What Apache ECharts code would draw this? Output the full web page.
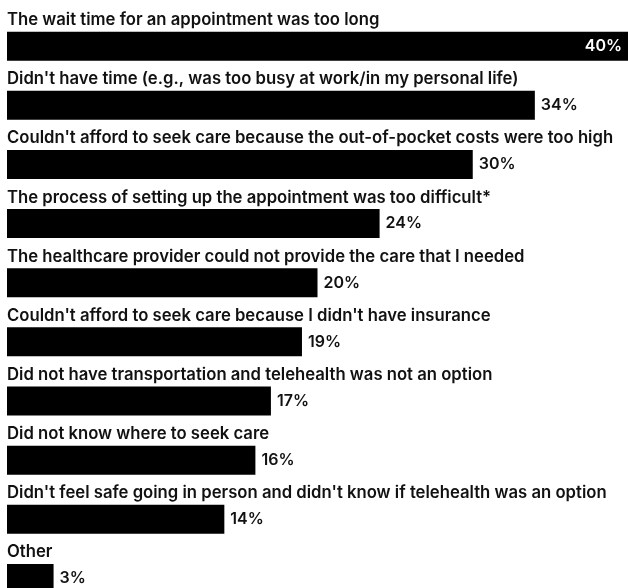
<!DOCTYPE html>
<html><head><meta charset="utf-8">
<script src="https://cdn.jsdelivr.net/npm/echarts@6/dist/echarts.min.js"></script>
<style>html,body{margin:0;padding:0;background:#fff}#c{width:628px;height:588px}</style>
</head><body><div id="c"></div>
<script>
const categories = [
  "The wait time for an appointment was too long",
  "Didn't have time (e.g., was too busy at work/in my personal life)",
  "Couldn't afford to seek care because the out-of-pocket costs were too high",
  "The process of setting up the appointment was too difficult*",
  "The healthcare provider could not provide the care that I needed",
  "Couldn't afford to seek care because I didn't have insurance",
  "Did not have transportation and telehealth was not an option",
  "Did not know where to seek care",
  "Didn't feel safe going in person and didn't know if telehealth was an option",
  "Other"
];
const values = [40, 34, 30, 24, 20, 19, 17, 16, 14, 3];

const font = 'Inter, Roboto, "Noto Sans", sans-serif';
const chart = echarts.init(document.getElementById('c'), null, {renderer: 'canvas'});
chart.setOption({
  animation: false,
  backgroundColor: '#fff',
  grid: {left: 7, right: 0, top: 16.6, height: 591.4, containLabel: false, outerBoundsMode: 'none'},
  xAxis: {type: 'value', min: 0, max: 40, show: false},
  yAxis: {type: 'category', data: categories, inverse: true, show: false},
  series: [
    {
      type: 'bar',
      barWidth: 29,
      itemStyle: {color: '#000'},
      data: values.map((v, i) => i === 0
        ? {value: v, label: {position: 'insideRight', color: '#fff', distance: 6}}
        : v),
      label: {
        show: true, position: 'right', distance: 6,
        formatter: p => p.value + '%',
        color: '#111', fontFamily: font, fontSize: 16, fontWeight: 600
      },
      z: 2
    },
    {
      type: 'bar',
      barWidth: 29,
      barGap: '-100%',
      itemStyle: {color: 'rgba(0,0,0,0)'},
      data: values,
      label: {
        show: true,
        position: [0, -3],
        align: 'left',
        verticalAlign: 'bottom',
        formatter: p => p.name,
        color: '#111', fontFamily: font, fontSize: 16.7, fontWeight: 600
      },
      silent: true,
      z: 3
    }
  ]
});
</script></body></html>
